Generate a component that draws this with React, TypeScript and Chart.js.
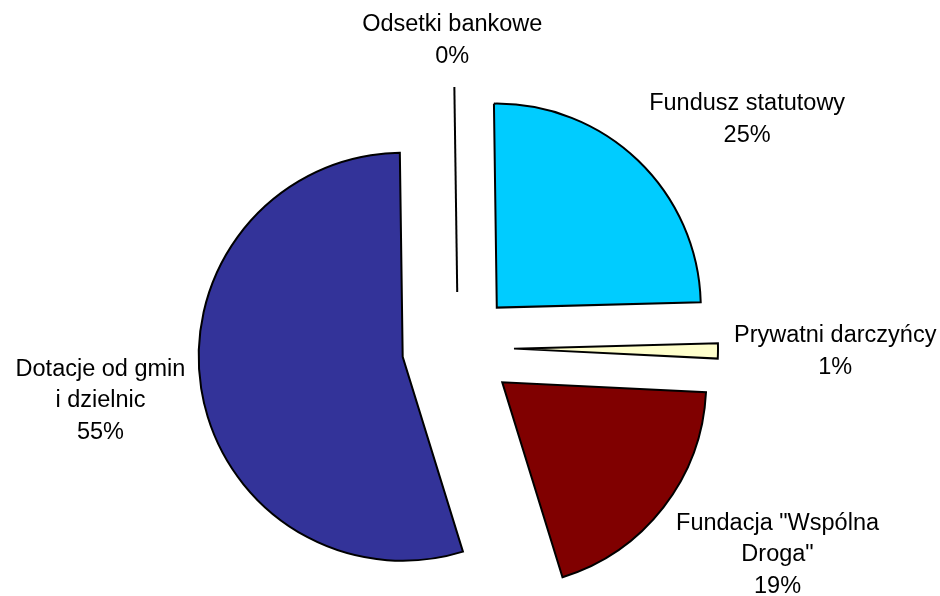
import { useEffect, useRef } from 'react';
import { Chart, registerables } from 'chart.js';

Chart.register(...registerables);

// ---- data ----
const categories: string[][] = [
  ['Fundusz statutowy'],
  ['Prywatni darczyńcy'],
  ['Fundacja "Wspólna', 'Droga"'],
  ['Dotacje od gmin', 'i dzielnic'],
  ['Odsetki bankowe'],
];
const values: number[] = [24.8, 1.2, 19.45, 54.55, 0];
const colors: string[] = ['#00CCFF', '#FFFFCC', '#800000', '#333399', '#FFFFFF'];

// ---- style ----
const EXPLODE = 56;
const LABEL_GAP = 16;
const LINE_H = 31.5;
const FONT = '23.5px "Liberation Sans", Arial, sans-serif';

const clamp = (v: number) => Math.max(-1, Math.min(1, v));

const explodePlugin = {
  id: 'explodePie',
  beforeDatasetDraw(chart: any, args: any) {
    const ctx = chart.ctx as CanvasRenderingContext2D;
    args.meta.data.forEach((arc: any) => {
      const { x, y, startAngle, endAngle, outerRadius } = arc.getProps(
        ['x', 'y', 'startAngle', 'endAngle', 'outerRadius'],
        true
      );
      const mid = (startAngle + endAngle) / 2;
      ctx.save();
      ctx.translate(Math.cos(mid) * EXPLODE, Math.sin(mid) * EXPLODE);
      if (endAngle - startAngle > 0) {
        arc.draw(ctx, chart.chartArea);
      } else {
        ctx.beginPath();
        ctx.moveTo(x, y);
        ctx.lineTo(
          x + Math.cos(startAngle) * (outerRadius + 1),
          y + Math.sin(startAngle) * (outerRadius + 1)
        );
        ctx.strokeStyle = '#000000';
        ctx.lineWidth = 2;
        ctx.stroke();
      }
      ctx.restore();
    });
    return false;
  },
  afterDatasetsDraw(chart: any) {
    const ctx = chart.ctx as CanvasRenderingContext2D;
    const meta = chart.getDatasetMeta(0);
    const data: number[] = chart.data.datasets[0].data;
    const total = data.reduce((a, b) => a + b, 0);
    ctx.save();
    ctx.font = FONT;
    ctx.fillStyle = '#000000';
    ctx.textAlign = 'center';
    ctx.textBaseline = 'middle';
    meta.data.forEach((arc: any, i: number) => {
      const { x, y, startAngle, endAngle, outerRadius } = arc.getProps(
        ['x', 'y', 'startAngle', 'endAngle', 'outerRadius'],
        true
      );
      const mid = (startAngle + endAngle) / 2;
      const dx = Math.cos(mid);
      const dy = Math.sin(mid);
      const D = outerRadius + EXPLODE + LABEL_GAP;
      const ax = x + dx * D;
      const ay = y + dy * D;
      const pct = Math.round((data[i] / total) * 100) + '%';
      const lines = [...(chart.data.labels[i] as string[]), pct];
      const w = Math.max(...lines.map((l) => ctx.measureText(l).width));
      const h = lines.length * LINE_H;
      const cx = ax + (clamp(dx * 1.5) * w) / 2;
      const cy = ay + (clamp(dy * 1.3) * h) / 2;
      lines.forEach((l, j) => {
        ctx.fillText(l, cx, cy - h / 2 + (j + 0.5) * LINE_H);
      });
    });
    ctx.restore();
  },
};

export default function App() {
  const ref = useRef<HTMLCanvasElement | null>(null);

  useEffect(() => {
    if (!ref.current) return;
    const chart = new Chart(ref.current, {
      type: 'pie',
      data: {
        labels: categories,
        datasets: [
          {
            data: values,
            backgroundColor: colors,
            borderColor: '#000000',
            borderWidth: 2,
            borderJoinStyle: 'miter',
            hoverOffset: 0,
          } as any,
        ],
      },
      options: {
        animation: false,
        responsive: false,
        events: [],
        rotation: -0.8,
        radius: 204,
        layout: { padding: { left: 0, right: 24, top: 100, bottom: 0 } },
        plugins: {
          legend: { display: false },
          tooltip: { enabled: false },
        },
      } as any,
      plugins: [explodePlugin],
    });
    return () => chart.destroy();
  }, []);

  return (
    <div style={{ position: 'absolute', left: 0, top: 0, width: 940, height: 596, background: '#ffffff' }}>
      <canvas ref={ref} width={940} height={596} />
    </div>
  );
}
